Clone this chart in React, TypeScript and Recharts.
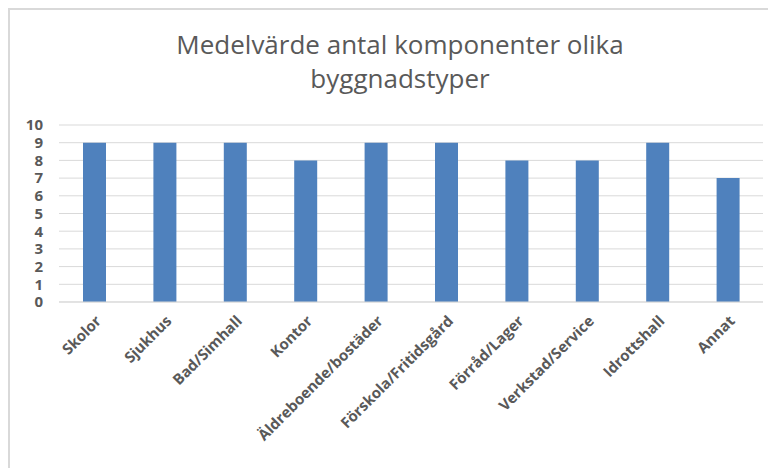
import { BarChart, Bar, XAxis, YAxis, CartesianGrid } from 'recharts';

const categories = [
  'Skolor',
  'Sjukhus',
  'Bad/Simhall',
  'Kontor',
  'Äldreboende/bostäder',
  'Förskola/Fritidsgård',
  'Förråd/Lager',
  'Verkstad/Service',
  'Idrottshall',
  'Annat',
];
const values = [9, 9, 9, 8, 9, 9, 8, 8, 9, 7];
const yTicks = [0, 1, 2, 3, 4, 5, 6, 7, 8, 9, 10];

const data = categories.map((name, i) => ({ name, value: values[i] }));

const TEXT = '#595959';
const FONT = '"Open Sans", "Liberation Sans", sans-serif';

function CategoryTick({ x, y, payload }: any) {
  const tx = x + 8;
  const ty = y + 12;
  return (
    <text
      x={tx}
      y={ty}
      transform={`rotate(-45, ${tx}, ${ty})`}
      textAnchor="end"
      fill={TEXT}
      fontSize={15}
      fontWeight="bold"
      fontFamily={FONT}
    >
      {payload.value}
    </text>
  );
}

export default function App() {
  return (
    <div
      style={{
        position: 'relative',
        width: 768,
        height: 460,
        borderTop: '2px solid #d9d9d9',
        borderLeft: '2px solid #d9d9d9',
        boxSizing: 'border-box',
        fontFamily: FONT,
      }}
    >
      <div
        style={{
          position: 'absolute',
          left: 0,
          top: 17,
          width: 780,
          textAlign: 'center',
          fontSize: 26,
          lineHeight: '34px',
          color: TEXT,
        }}
      >
        Medelvärde antal komponenter olika
        <br />
        byggnadstyper
      </div>
      <BarChart
        width={766}
        height={458}
        data={data}
        margin={{ top: 115, right: 13, bottom: 0, left: 0 }}
      >
        <CartesianGrid vertical={false} stroke="#d9d9d9" />
        <XAxis
          dataKey="name"
          interval={0}
          tickLine={false}
          axisLine={{ stroke: '#d9d9d9' }}
          height={166}
          tick={<CategoryTick />}
        />
        <YAxis
          domain={[0, 10]}
          ticks={yTicks}
          interval={0}
          width={49}
          axisLine={false}
          tickLine={false}
          tickSize={0}
          tickMargin={16}
          tick={{ fill: TEXT, fontSize: 15, fontWeight: 'bold', fontFamily: FONT }}
        />
        <Bar dataKey="value" fill="#4F81BD" barSize={23} isAnimationActive={false} />
      </BarChart>
    </div>
  );
}
